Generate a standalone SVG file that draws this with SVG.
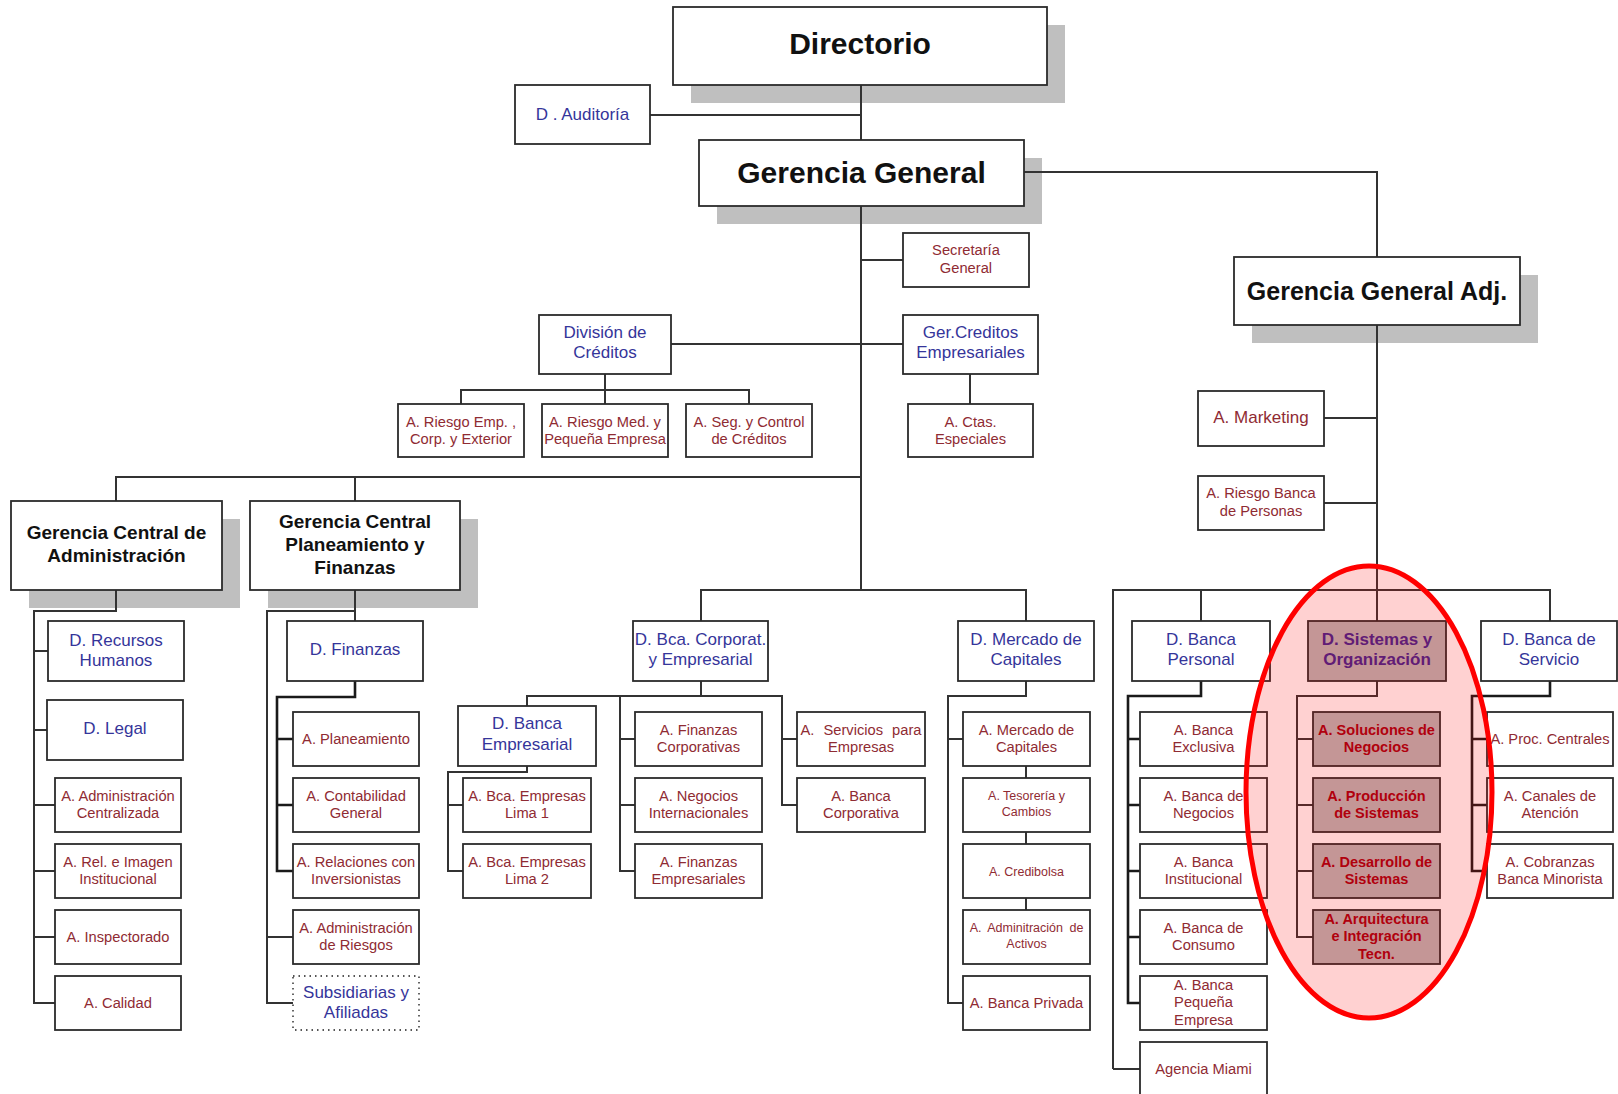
<svg xmlns="http://www.w3.org/2000/svg" width="1618" height="1094" viewBox="0 0 1618 1094">
<style>
.bg{fill:#fff}
.sh{fill:#bfbfbf}
.bx{fill:#fff;stroke:#2b2b2b;stroke-width:1.8}
.dot{fill:#fff;stroke:#555;stroke-width:1.8;stroke-dasharray:1.5 4}
.sy{fill:#b7b7b7;stroke:#2b2b2b;stroke-width:1.8}
.ln{fill:none;stroke:#333;stroke-width:2}
.lt{fill:none;stroke:#1a1a1a;stroke-width:2.6}
text{font-family:"Liberation Sans",Arial,sans-serif;text-anchor:middle}
.hb{font-weight:bold;fill:#111}
.tb{font-size:17px;fill:#35359a}
.tr{font-size:14.7px;fill:#8f2b33}
.ts{font-size:12.5px;fill:#8f2b33}
.tm{font-size:17px;fill:#8f2b33}
.trs{font-size:14.5px;font-weight:bold;fill:#a00010}
.tbs{font-size:17px;font-weight:bold;fill:#3e2490}
.ell{fill:#ff0000;fill-opacity:0.18;stroke:#ff0000;stroke-width:5}
</style>
<rect class="bg" x="0" y="0" width="1618" height="1094"/>
<g id="shadows">
<rect class="sh" x="691" y="25" width="374" height="78"/>
<rect class="sh" x="717" y="158" width="325" height="66"/>
<rect class="sh" x="1252" y="275" width="286" height="68"/>
<rect class="sh" x="29" y="519" width="211" height="89"/>
<rect class="sh" x="268" y="519" width="210" height="89"/>
</g>
<g id="connectors">
<path class="ln" d="M861,85 V590"/>
<path class="ln" d="M650,115 H861"/>
<path class="ln" d="M861,260 H903"/>
<path class="ln" d="M671,344 H903"/>
<path class="ln" d="M605,374 V404 M461,404 V390 H749 V404"/>
<path class="ln" d="M970,374 V404"/>
<path class="ln" d="M1024,172 H1377 V257"/>
<path class="ln" d="M1377,325 V621"/>
<path class="ln" d="M1324,418 H1377 M1324,503 H1377"/>
<path class="ln" d="M116,501 V477 H861 M355,477 V501"/>
<path class="ln" d="M116,590 V611 H34 V1003 H55 M34,651 H48 M34,730 H47 M34,805 H55 M34,871 H55 M34,937 H55"/>
<path class="ln" d="M355,590 V621 M355,611 H267 V1003 H293 M267,937 H293"/>
<path class="lt" d="M355,681 V697 H277 V871 H293 M277,739 H293 M277,805 H293"/>
<path class="ln" d="M701,621 V590 H1026 V621"/>
<path class="ln" d="M701,681 V696 M527,706 V696 H782 V805 H797 M782,739 H797 M620,696 V871 H635 M620,739 H635 M620,805 H635"/>
<path class="ln" d="M527,766 V772 H448 V871 H463 M448,805 H463"/>
<path class="ln" d="M1026,681 V696 H948 V1003 H963 M948,739 H963 M1026,766 V778 M1026,832 V844 M1026,898 V910"/>
<path class="ln" d="M1113,1069 V590 H1550 V621 M1201,590 V621 M1113,1069 H1140"/>
<path class="lt" d="M1201,681 V696 H1128 V1003 H1140 M1128,739 H1140 M1128,805 H1140 M1128,871 H1140 M1128,937 H1140"/>
<path class="ln" d="M1377,681 V696 H1297 V937 H1313 M1297,739 H1313 M1297,805 H1313 M1297,871 H1313"/>
<path class="lt" d="M1550,681 V696 H1472 V871 H1487 M1472,739 H1487 M1472,805 H1487"/>
</g>
<g id="n-directorio"><rect class="bx" x="673" y="7" width="374" height="78"/><text class="hb" x="860" y="54" font-size="30">Directorio</text></g>
<g id="n-auditoria"><rect class="bx" x="515" y="85" width="135" height="59"/><text class="tb" x="582.5" y="120">D . Auditoría</text></g>
<g id="n-gerencia-general"><rect class="bx" x="699" y="140" width="325" height="66"/><text class="hb" x="861.5" y="183" font-size="30">Gerencia General</text></g>
<g id="n-secretaria"><rect class="bx" x="903" y="233" width="126" height="54"/><text class="tr" x="966"><tspan x="966" y="255">Secretaría</tspan><tspan x="966" y="272.5">General</tspan></text></g>
<g id="n-gga"><rect class="bx" x="1234" y="257" width="286" height="68"/><text class="hb" x="1377" y="300" font-size="25">Gerencia General Adj.</text></g>
<g id="n-division-creditos"><rect class="bx" x="539" y="315" width="132" height="59"/><text class="tb"><tspan x="605" y="338">División de</tspan><tspan x="605" y="358">Créditos</tspan></text></g>
<g id="n-ger-creditos"><rect class="bx" x="903" y="315" width="135" height="59"/><text class="tb"><tspan x="970.5" y="338">Ger.Creditos</tspan><tspan x="970.5" y="358">Empresariales</tspan></text></g>
<g id="n-riesgo-emp"><rect class="bx" x="398" y="404" width="126" height="53"/><text class="tr"><tspan x="461" y="426.5">A. Riesgo Emp. ,</tspan><tspan x="461" y="444">Corp. y Exterior</tspan></text></g>
<g id="n-riesgo-med"><rect class="bx" x="542" y="404" width="126" height="53"/><text class="tr"><tspan x="605" y="426.5">A. Riesgo Med. y</tspan><tspan x="605" y="444">Pequeña Empresa</tspan></text></g>
<g id="n-seg-control"><rect class="bx" x="686" y="404" width="126" height="53"/><text class="tr"><tspan x="749" y="426.5">A. Seg. y Control</tspan><tspan x="749" y="444">de Créditos</tspan></text></g>
<g id="n-ctas-especiales"><rect class="bx" x="908" y="404" width="125" height="53"/><text class="tr"><tspan x="970.5" y="426.5">A. Ctas.</tspan><tspan x="970.5" y="444">Especiales</tspan></text></g>
<g id="n-marketing"><rect class="bx" x="1198" y="391" width="126" height="55"/><text class="tm" x="1261" y="423">A. Marketing</text></g>
<g id="n-riesgo-banca-personas"><rect class="bx" x="1198" y="476" width="126" height="54"/><text class="tr"><tspan x="1261" y="498">A. Riesgo Banca</tspan><tspan x="1261" y="516">de Personas</tspan></text></g>
<g id="n-gca"><rect class="bx" x="11" y="501" width="211" height="89"/><text class="hb" font-size="19"><tspan x="116.5" y="539">Gerencia Central de</tspan><tspan x="116.5" y="562">Administración</tspan></text></g>
<g id="n-gcpf"><rect class="bx" x="250" y="501" width="210" height="89"/><text class="hb" font-size="19"><tspan x="355" y="528">Gerencia Central</tspan><tspan x="355" y="551">Planeamiento y</tspan><tspan x="355" y="574">Finanzas</tspan></text></g>
<g id="n-rrhh"><rect class="bx" x="48" y="621" width="136" height="60"/><text class="tb"><tspan x="116" y="646">D. Recursos</tspan><tspan x="116" y="666">Humanos</tspan></text></g>
<g id="n-legal"><rect class="bx" x="47" y="700" width="136" height="60"/><text class="tb" x="115" y="734">D. Legal</text></g>
<g id="n-adm-centralizada"><rect class="bx" x="55" y="778" width="126" height="54"/><text class="tr"><tspan x="118" y="800.5">A. Administración</tspan><tspan x="118" y="818">Centralizada</tspan></text></g>
<g id="n-rel-imagen"><rect class="bx" x="55" y="844" width="126" height="54"/><text class="tr"><tspan x="118" y="866.5">A. Rel. e Imagen</tspan><tspan x="118" y="884">Institucional</tspan></text></g>
<g id="n-inspectorado"><rect class="bx" x="55" y="910" width="126" height="54"/><text class="tr" x="118" y="942">A. Inspectorado</text></g>
<g id="n-calidad"><rect class="bx" x="55" y="976" width="126" height="54"/><text class="tr" x="118" y="1008">A. Calidad</text></g>
<g id="n-finanzas"><rect class="bx" x="287" y="621" width="136" height="60"/><text class="tb" x="355" y="655">D. Finanzas</text></g>
<g id="n-planeamiento"><rect class="bx" x="293" y="712" width="126" height="54"/><text class="tr" x="356" y="744">A. Planeamiento</text></g>
<g id="n-contabilidad"><rect class="bx" x="293" y="778" width="126" height="54"/><text class="tr"><tspan x="356" y="800.5">A. Contabilidad</tspan><tspan x="356" y="818">General</tspan></text></g>
<g id="n-relaciones"><rect class="bx" x="293" y="844" width="126" height="54"/><text class="tr"><tspan x="356" y="866.5">A. Relaciones con</tspan><tspan x="356" y="884">Inversionistas</tspan></text></g>
<g id="n-adm-riesgos"><rect class="bx" x="293" y="910" width="126" height="54"/><text class="tr"><tspan x="356" y="932.5">A. Administración</tspan><tspan x="356" y="950">de Riesgos</tspan></text></g>
<g id="n-subsidiarias"><rect class="dot" x="293" y="976" width="126" height="54"/><text class="tb"><tspan x="356" y="998">Subsidiarias y</tspan><tspan x="356" y="1018">Afiliadas</tspan></text></g>
<g id="n-bca-corporat"><rect class="bx" x="633" y="621" width="135" height="60"/><text class="tb"><tspan x="700.5" y="645">D. Bca. Corporat.</tspan><tspan x="700.5" y="665">y Empresarial</tspan></text></g>
<g id="n-banca-empresarial"><rect class="bx" x="458" y="706" width="138" height="60"/><text class="tb"><tspan x="527" y="729">D. Banca</tspan><tspan x="527" y="750">Empresarial</tspan></text></g>
<g id="n-lima1"><rect class="bx" x="463" y="778" width="128" height="54"/><text class="tr"><tspan x="527" y="800.5">A. Bca. Empresas</tspan><tspan x="527" y="818">Lima 1</tspan></text></g>
<g id="n-lima2"><rect class="bx" x="463" y="844" width="128" height="54"/><text class="tr"><tspan x="527" y="866.5">A. Bca. Empresas</tspan><tspan x="527" y="884">Lima 2</tspan></text></g>
<g id="n-fin-corp"><rect class="bx" x="635" y="712" width="127" height="54"/><text class="tr"><tspan x="698.5" y="734.5">A. Finanzas</tspan><tspan x="698.5" y="752">Corporativas</tspan></text></g>
<g id="n-neg-int"><rect class="bx" x="635" y="778" width="127" height="54"/><text class="tr"><tspan x="698.5" y="800.5">A. Negocios</tspan><tspan x="698.5" y="818">Internacionales</tspan></text></g>
<g id="n-fin-emp"><rect class="bx" x="635" y="844" width="127" height="54"/><text class="tr"><tspan x="698.5" y="866.5">A. Finanzas</tspan><tspan x="698.5" y="884">Empresariales</tspan></text></g>
<g id="n-servicios-emp"><rect class="bx" x="797" y="712" width="128" height="54"/><text class="tr"><tspan x="861" y="734.5" word-spacing="5">A. Servicios para</tspan><tspan x="861" y="752">Empresas</tspan></text></g>
<g id="n-banca-corp"><rect class="bx" x="797" y="778" width="128" height="54"/><text class="tr"><tspan x="861" y="800.5">A. Banca</tspan><tspan x="861" y="818">Corporativa</tspan></text></g>
<g id="n-mercado-cap"><rect class="bx" x="958" y="621" width="136" height="60"/><text class="tb"><tspan x="1026" y="645">D. Mercado de</tspan><tspan x="1026" y="665">Capitales</tspan></text></g>
<g id="n-a-mercado-cap"><rect class="bx" x="963" y="712" width="127" height="54"/><text class="tr"><tspan x="1026.5" y="734.5">A. Mercado de</tspan><tspan x="1026.5" y="752">Capitales</tspan></text></g>
<g id="n-tesoreria"><rect class="bx" x="963" y="778" width="127" height="54"/><text class="ts"><tspan x="1026.5" y="800">A. Tesorería y</tspan><tspan x="1026.5" y="815.5">Cambios</tspan></text></g>
<g id="n-credibolsa"><rect class="bx" x="963" y="844" width="127" height="54"/><text class="ts" x="1026.5" y="875.5">A. Credibolsa</text></g>
<g id="n-activos"><rect class="bx" x="963" y="910" width="127" height="54"/><text class="ts"><tspan x="1026.5" y="932" word-spacing="3">A. Adminitración  de</tspan><tspan x="1026.5" y="947.5">Activos</tspan></text></g>
<g id="n-banca-privada"><rect class="bx" x="963" y="976" width="127" height="54"/><text class="tr" x="1026.5" y="1008">A. Banca Privada</text></g>
<g id="n-banca-personal"><rect class="bx" x="1132" y="621" width="138" height="60"/><text class="tb"><tspan x="1201" y="645">D. Banca</tspan><tspan x="1201" y="665">Personal</tspan></text></g>
<g id="n-banca-exclusiva"><rect class="bx" x="1140" y="712" width="127" height="54"/><text class="tr"><tspan x="1203.5" y="734.5">A. Banca</tspan><tspan x="1203.5" y="752">Exclusiva</tspan></text></g>
<g id="n-banca-negocios"><rect class="bx" x="1140" y="778" width="127" height="54"/><text class="tr"><tspan x="1203.5" y="800.5">A. Banca de</tspan><tspan x="1203.5" y="818">Negocios</tspan></text></g>
<g id="n-banca-institucional"><rect class="bx" x="1140" y="844" width="127" height="54"/><text class="tr"><tspan x="1203.5" y="866.5">A. Banca</tspan><tspan x="1203.5" y="884">Institucional</tspan></text></g>
<g id="n-banca-consumo"><rect class="bx" x="1140" y="910" width="127" height="54"/><text class="tr"><tspan x="1203.5" y="932.5">A. Banca de</tspan><tspan x="1203.5" y="950">Consumo</tspan></text></g>
<g id="n-banca-pequena"><rect class="bx" x="1140" y="976" width="127" height="54"/><text class="tr"><tspan x="1203.5" y="989.5">A. Banca</tspan><tspan x="1203.5" y="1007">Pequeña</tspan><tspan x="1203.5" y="1024.5">Empresa</tspan></text></g>
<g id="n-agencia-miami"><rect class="bx" x="1140" y="1042" width="127" height="70"/><text class="tr" x="1203.5" y="1074">Agencia Miami</text></g>
<g id="n-sistemas"><rect class="sy" x="1308" y="621" width="138" height="60"/><text class="tbs"><tspan x="1377" y="645">D. Sistemas y</tspan><tspan x="1377" y="665">Organización</tspan></text></g>
<g id="n-soluciones"><rect class="sy" x="1313" y="712" width="127" height="54"/><text class="trs"><tspan x="1376.5" y="734.5">A. Soluciones de</tspan><tspan x="1376.5" y="752">Negocios</tspan></text></g>
<g id="n-produccion"><rect class="sy" x="1313" y="778" width="127" height="54"/><text class="trs"><tspan x="1376.5" y="800.5">A. Producción</tspan><tspan x="1376.5" y="818">de Sistemas</tspan></text></g>
<g id="n-desarrollo"><rect class="sy" x="1313" y="844" width="127" height="54"/><text class="trs"><tspan x="1376.5" y="866.5">A. Desarrollo de</tspan><tspan x="1376.5" y="884">Sistemas</tspan></text></g>
<g id="n-arquitectura"><rect class="sy" x="1313" y="910" width="127" height="54"/><text class="trs"><tspan x="1376.5" y="923.5">A. Arquitectura</tspan><tspan x="1376.5" y="941">e Integración</tspan><tspan x="1376.5" y="958.5">Tecn.</tspan></text></g>
<g id="n-banca-servicio"><rect class="bx" x="1481" y="621" width="136" height="60"/><text class="tb"><tspan x="1549" y="645">D. Banca de</tspan><tspan x="1549" y="665">Servicio</tspan></text></g>
<g id="n-proc-centrales"><rect class="bx" x="1487" y="712" width="126" height="54"/><text class="tr" x="1550" y="744">A. Proc. Centrales</text></g>
<g id="n-canales"><rect class="bx" x="1487" y="778" width="126" height="54"/><text class="tr"><tspan x="1550" y="800.5">A. Canales de</tspan><tspan x="1550" y="818">Atención</tspan></text></g>
<g id="n-cobranzas"><rect class="bx" x="1487" y="844" width="126" height="54"/><text class="tr"><tspan x="1550" y="866.5">A. Cobranzas</tspan><tspan x="1550" y="884">Banca Minorista</tspan></text></g>
<g id="highlight"><ellipse class="ell" cx="1369" cy="792" rx="123" ry="226"/></g>
</svg>
